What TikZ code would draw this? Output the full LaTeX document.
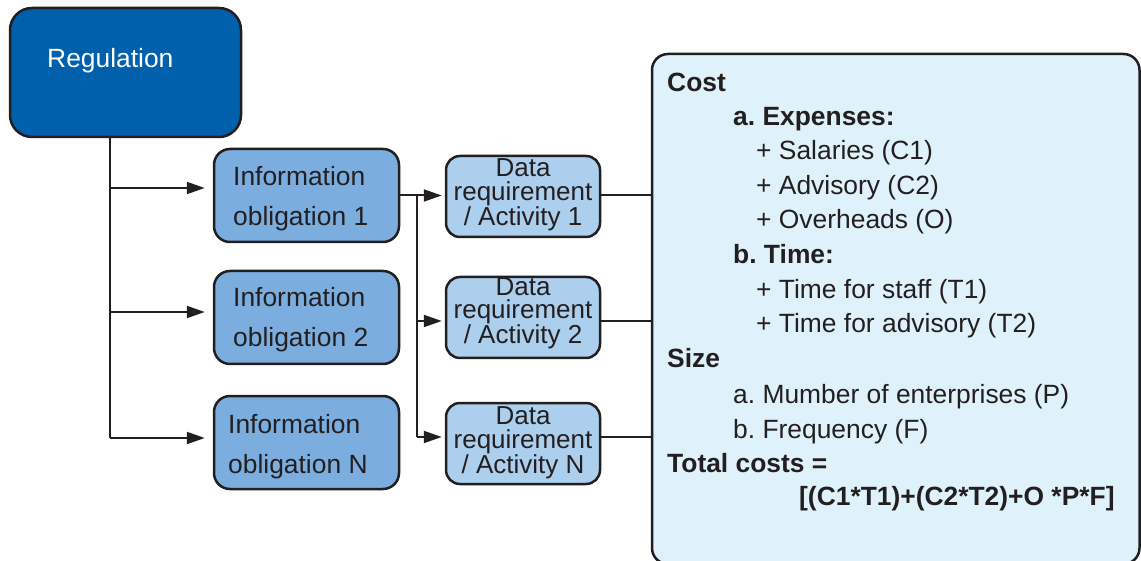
\documentclass[tikz,border=0pt]{standalone}
\usepackage{fontspec}
\setmainfont{Liberation Sans}
\usetikzlibrary{arrows.meta,calc}
\definecolor{ink}{HTML}{231F20}
\definecolor{regblue}{HTML}{0160AC}
\definecolor{infoblue}{HTML}{7BAEDF}
\definecolor{datablue}{HTML}{ADCFEE}
\definecolor{costblue}{HTML}{DFF2FB}
\frenchspacing
\begin{document}
\begin{tikzpicture}[x=1pt,y=-1pt,
  box/.style={draw=ink, line width=2.5pt, rounded corners=16pt, inner sep=0pt},
  txt/.style={text=ink, inner sep=0pt},
  big/.style={font=\fontsize{26.4}{40}\selectfont},
  small/.style={font=\fontsize{26}{23.5}\selectfont},
  line/.style={draw=ink, line width=2pt},
  arr/.style={line, -{Triangle[length=18pt,width=12pt]}},
  ctext/.style={text=ink, inner sep=0pt, anchor=base west, font=\fontsize{26.4}{30}\selectfont}]
\useasboundingbox (0,0) rectangle (1141,561);

% Regulation
\node[box, fill=regblue, minimum width=231pt, minimum height=129pt, rounded corners=22pt] (reg) at (125.5,72.5) {};
\node[txt, text=white, anchor=base west, big] (regt) at (47,68) {Regulation};

% Information obligations
\node[box, fill=infoblue, minimum width=185pt, minimum height=93pt] (io1) at (306.5,195.5) {};
\node[box, fill=infoblue, minimum width=185pt, minimum height=93pt] (io2) at (306.5,317.5) {};
\node[box, fill=infoblue, minimum width=185pt, minimum height=93pt] (ioN) at (306.5,442.5) {};
\node[txt, anchor=west, align=left, big] (io1t) at (233,199) {Information\\obligation 1};
\node[txt, anchor=west, align=left, big] (io2t) at (233,320) {Information\\obligation 2};
\node[txt, anchor=west, align=left, big] (ioNt) at (228,446.3) {Information\\obligation N};

% Data requirements
\node[box, fill=datablue, minimum width=154pt, minimum height=81pt, rounded corners=14pt] (d1) at (523,196.5) {};
\node[box, fill=datablue, minimum width=154pt, minimum height=81pt, rounded corners=14pt] (d2) at (523,317.5) {};
\node[box, fill=datablue, minimum width=154pt, minimum height=81pt, rounded corners=14pt] (dN) at (523,443.5) {};
\node[txt, align=center, small] (d1t) at (523,195) {Data\\requirement\\/ Activity 1};
\node[txt, align=center, small] (d2t) at (523,313.3) {Data\\requirement\\/ Activity 2};
\node[txt, align=center, small] (dNt) at (523,443.1) {Data\\requirement\\/ Activity N};

% Cost box
\node[box, fill=costblue, minimum width=487.5pt, minimum height=510pt, rounded corners=16pt] (cost) at (895.75,309) {};
\node[ctext] (c1) at (667,92) {\textbf{Cost}};
\node[ctext] (c2) at (733,126) {\textbf{a. Expenses:}};
\node[ctext] (c3) at (756,160) {+ Salaries (C1)};
\node[ctext] (c4) at (756,195) {+ Advisory (C2)};
\node[ctext] (c5) at (756,229) {+ Overheads (O)};
\node[ctext] (c6) at (733,264) {\textbf{b. Time:}};
\node[ctext] (c7) at (756,299) {+ Time for staff (T1)};
\node[ctext] (c8) at (756,333) {+ Time for advisory (T2)};
\node[ctext] (c9) at (667,368) {\textbf{Size}};
\node[ctext] (c10) at (733,403) {a. Mumber of enterprises (P)};
\node[ctext] (c11) at (733,438) {b. Frequency (F)};
\node[ctext] (c12) at (667,472) {\textbf{Total costs =}};
\node[ctext] (c13) at (799,505) {\textbf{[(C1*T1)+(C2*T2)+O *P*F]}};

% Connectors: regulation -> obligations
\coordinate (tA) at (110,188);
\coordinate (tB) at (110,312);
\coordinate (tN) at (110,438);
\draw[line] (reg.south -| tN) -- (tN);
\draw[arr, shorten >=8pt] (tA) -- (tA -| io1.west);
\draw[arr, shorten >=8pt] (tB) -- (tB -| io2.west);
\draw[arr, shorten >=8pt] (tN) -- (tN -| ioN.west);

% Connectors: obligation 1 -> data requirements
\coordinate (sA) at (417,195.5);
\coordinate (sB) at (417,321);
\coordinate (sN) at (417,437);
\draw[line] (sA) -- (sN);
\draw[arr, shorten >=3pt] (io1.east) -- (io1.east -| d1.west);
\draw[arr, shorten >=3pt] (sB) -- (sB -| d2.west);
\draw[arr, shorten >=3pt] (sN) -- (sN -| dN.west);

% Connectors: data requirements -> cost
\draw[line] (d1.east |- sA) -- (cost.west |- sA);
\draw[line] (d2.east |- sB) -- (cost.west |- sB);
\draw[line] (dN.east |- sN) -- (cost.west |- sN);
\end{tikzpicture}
\end{document}
